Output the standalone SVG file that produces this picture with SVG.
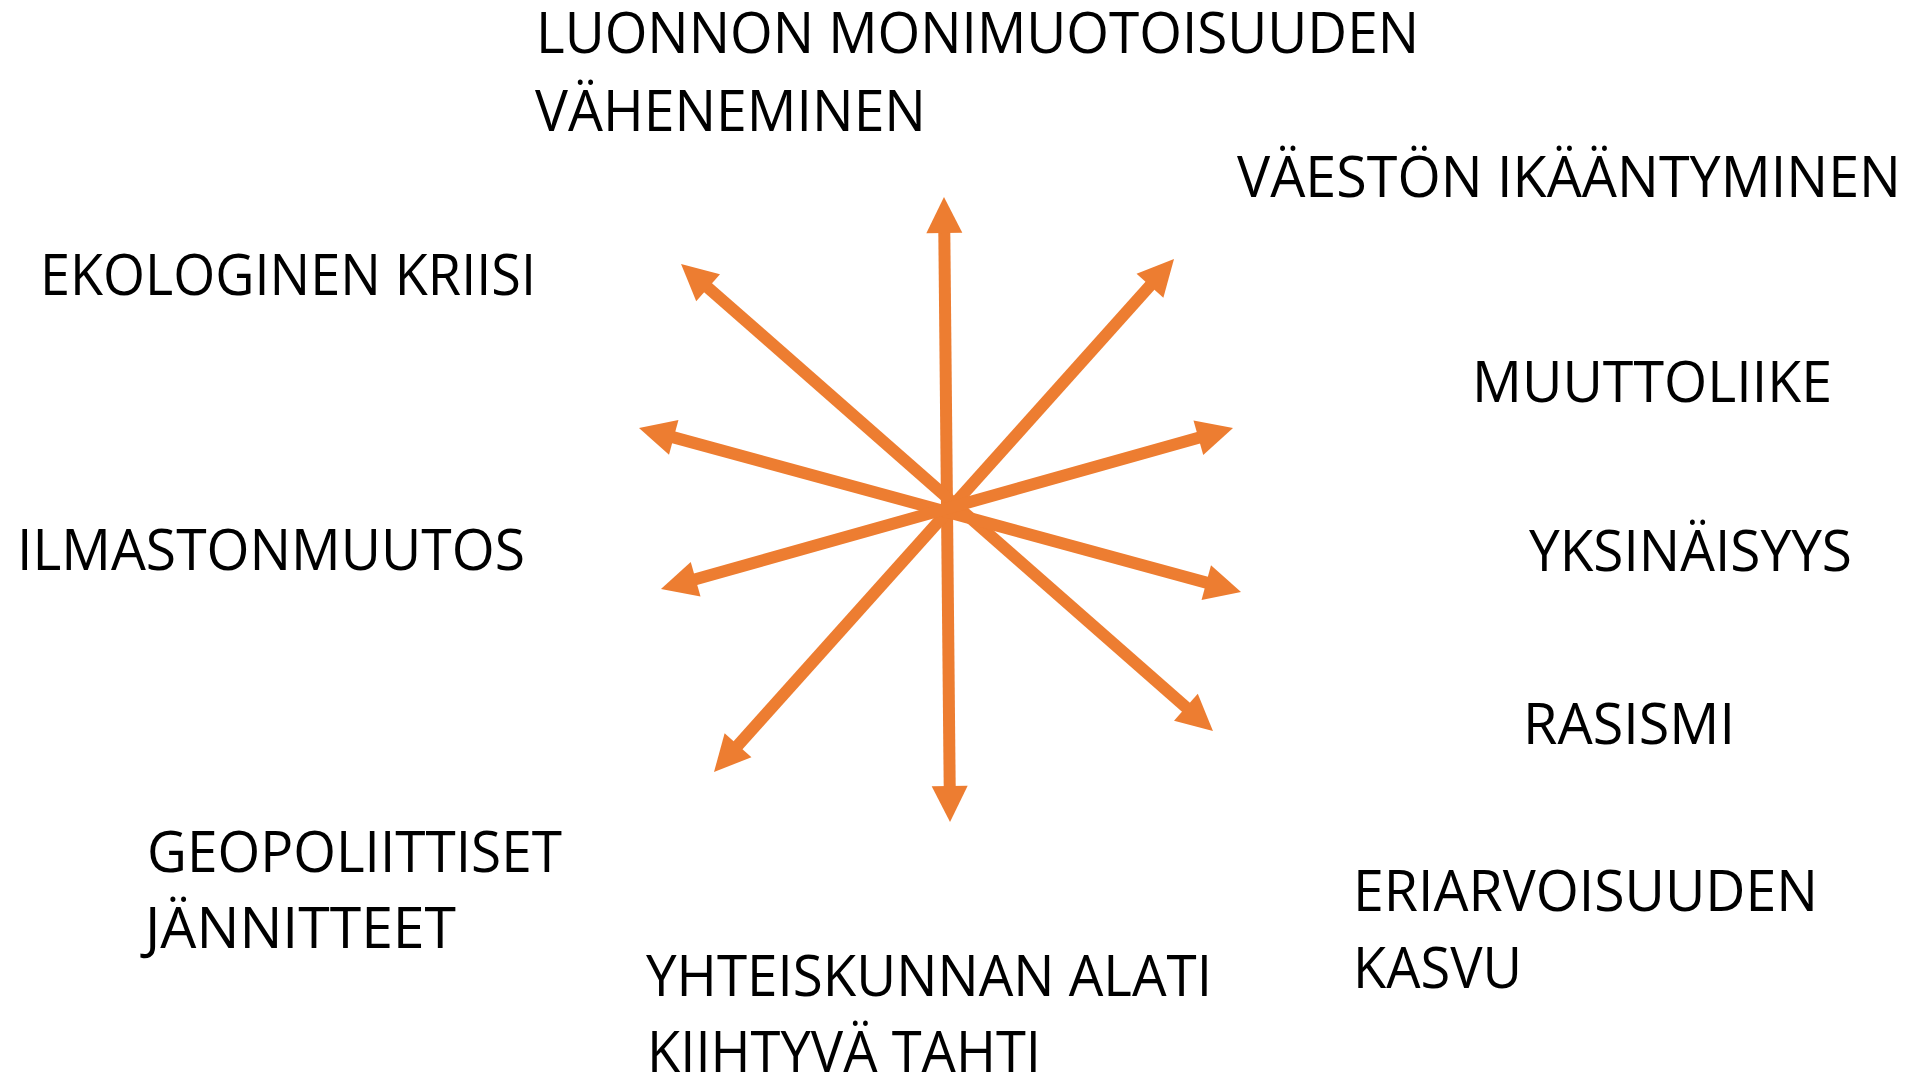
<svg xmlns="http://www.w3.org/2000/svg" width="1932" height="1074" viewBox="0 0 1932 1074">
<style>
.lbl{font-family:"Open Sans","Noto Sans","Liberation Sans",sans-serif;font-size:56px;fill:#000000;}
.arr{stroke:#ED7D31;stroke-width:12;fill:none;marker-start:url(#head);marker-end:url(#head);}
</style>
<defs>
<marker id="head" markerUnits="userSpaceOnUse" markerWidth="40" markerHeight="40" refX="0" refY="0" orient="auto-start-reverse" overflow="visible">
<path d="M-2,-18 L34,0 L-2,18 Z" fill="#ED7D31"/>
</marker>
</defs>
<rect width="1932" height="1074" fill="#FFFFFF"/>
<g id="connectors">
<line class="arr" x1="944.3" y1="231" x2="949.7" y2="788"/>
<line class="arr" x1="706.6" y1="286.4" x2="1187.4" y2="708.6"/>
<line class="arr" x1="1151.3" y1="284.3" x2="736.7" y2="746.7"/>
<line class="arr" x1="671.8" y1="436.9" x2="1208.2" y2="583.1"/>
<line class="arr" x1="1200.3" y1="437.2" x2="693.7" y2="579.8"/>
</g>
<g id="node-luonnon"><text class="lbl" x="536" y="53" textLength="883" lengthAdjust="spacingAndGlyphs">LUONNON MONIMUOTOISUUDEN</text><text class="lbl" x="535" y="131" textLength="391" lengthAdjust="spacingAndGlyphs">VÄHENEMINEN</text></g>
<g id="node-vaesto"><text class="lbl" x="1237" y="197" textLength="664" lengthAdjust="spacingAndGlyphs">VÄESTÖN IKÄÄNTYMINEN</text></g>
<g id="node-ekologinen"><text class="lbl" x="40" y="295" textLength="496" lengthAdjust="spacingAndGlyphs">EKOLOGINEN KRIISI</text></g>
<g id="node-muuttoliike"><text class="lbl" x="1472" y="402" textLength="360" lengthAdjust="spacingAndGlyphs">MUUTTOLIIKE</text></g>
<g id="node-ilmasto"><text class="lbl" x="17" y="570" textLength="508" lengthAdjust="spacingAndGlyphs">ILMASTONMUUTOS</text></g>
<g id="node-yksinaisyys"><text class="lbl" x="1529" y="571" textLength="323" lengthAdjust="spacingAndGlyphs">YKSINÄISYYS</text></g>
<g id="node-rasismi"><text class="lbl" x="1523" y="744" textLength="212" lengthAdjust="spacingAndGlyphs">RASISMI</text></g>
<g id="node-geopoliittiset"><text class="lbl" x="147" y="872" textLength="415" lengthAdjust="spacingAndGlyphs">GEOPOLIITTISET</text><text class="lbl" x="145" y="948" textLength="311" lengthAdjust="spacingAndGlyphs">JÄNNITTEET</text></g>
<g id="node-eriarvoisuus"><text class="lbl" x="1353" y="911" textLength="465" lengthAdjust="spacingAndGlyphs">ERIARVOISUUDEN</text><text class="lbl" x="1353" y="988" textLength="169" lengthAdjust="spacingAndGlyphs">KASVU</text></g>
<g id="node-yhteiskunta"><text class="lbl" x="646" y="996" textLength="566" lengthAdjust="spacingAndGlyphs">YHTEISKUNNAN ALATI</text><text class="lbl" x="647" y="1072" textLength="394" lengthAdjust="spacingAndGlyphs">KIIHTYVÄ TAHTI</text></g>
</svg>
